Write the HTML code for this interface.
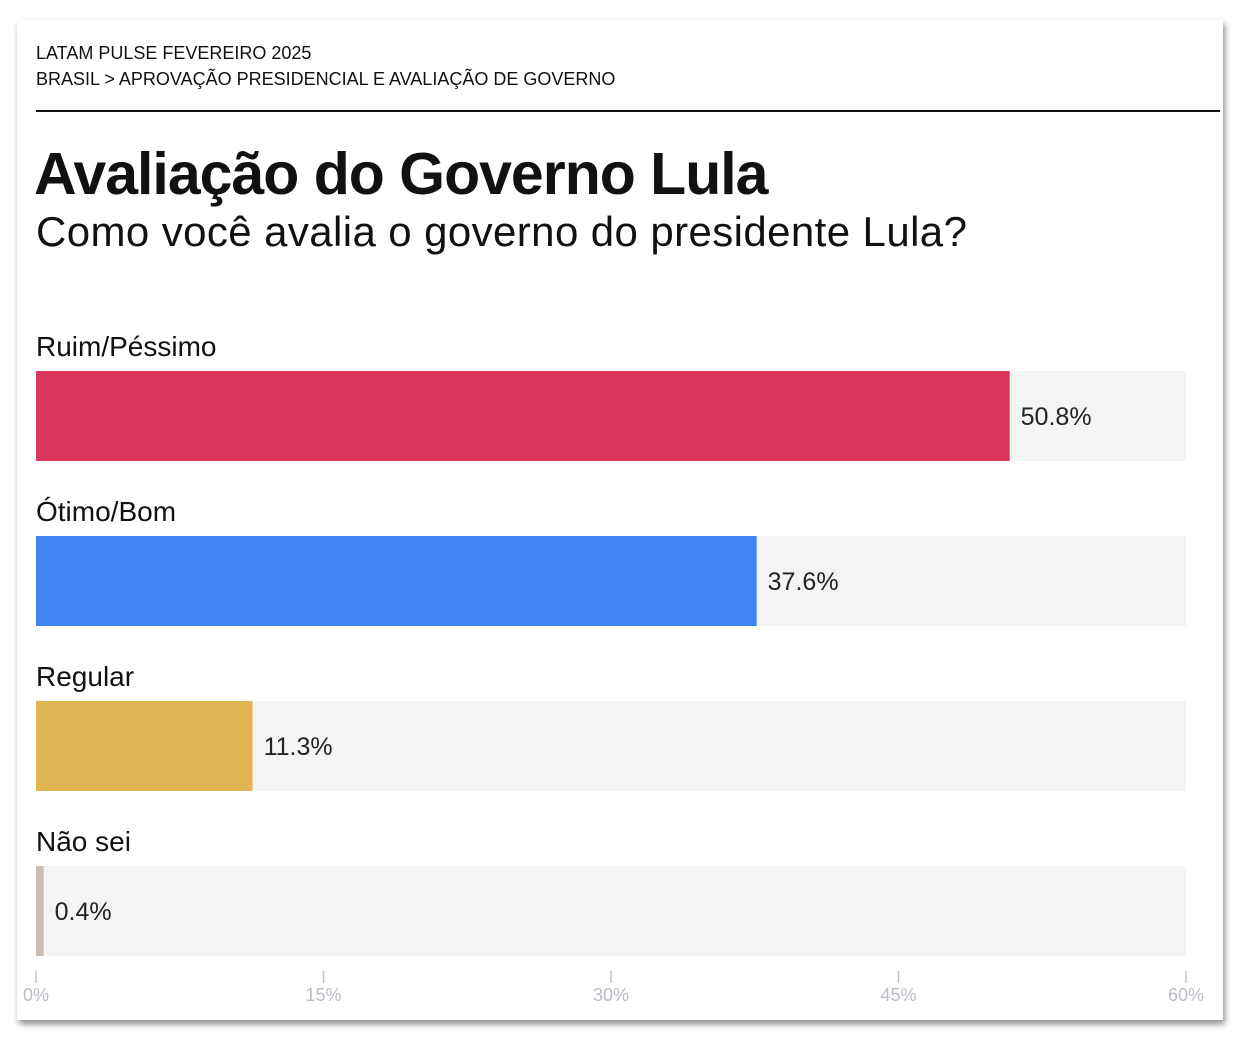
<!DOCTYPE html>
<html><head><meta charset="utf-8"><style>
body{margin:0;width:1246px;height:1046px;background:#fff;font-family:"Liberation Sans",sans-serif;position:relative;overflow:hidden}
#card{position:absolute;left:17px;top:20px;width:1206px;height:1000px;background:#fff;box-shadow:2px 4px 6px rgba(0,0,0,0.45)}
.t{position:absolute;white-space:nowrap;color:#111}
</style></head><body>
<div id="card"></div>
<div class="t" style="left:36px;top:43px;font-size:18px">LATAM PULSE FEVEREIRO 2025</div>
<div class="t" style="left:36px;top:69px;font-size:18px">BRASIL &gt; APROVAÇÃO PRESIDENCIAL E AVALIAÇÃO DE GOVERNO</div>
<div style="position:absolute;left:36px;top:110px;width:1184px;height:2px;background:#111"></div>
<div class="t" style="left:34px;top:140px;font-size:59px;font-weight:bold;letter-spacing:-1px">Avaliação do Governo Lula</div>
<div class="t" style="left:36px;top:208px;font-size:42px;letter-spacing:0.4px">Como você avalia o governo do presidente Lula?</div>
<svg id="chart" width="1246" height="1046" style="position:absolute;left:0;top:0"></svg>
<script>
const categories=["Ruim/Péssimo","Ótimo/Bom","Regular","Não sei"];
const values=[50.8,37.6,11.3,0.4];
const colors=["#d9385a","#4285f4","#e0b552","#c9bdb5"];
const ticks=[0,15,30,45,60];
const ns="http://www.w3.org/2000/svg";
const svg=document.getElementById('chart');
const x0=36,x1=1186,xmax=60;
const xs=v=>x0+(x1-x0)*v/xmax;
const ys=i=>371+165*i;
function el(t,a){const e=document.createElementNS(ns,t);for(const k in a)e.setAttribute(k,a[k]);svg.appendChild(e);return e;}
categories.forEach((c,i)=>{
 const y=ys(i);
 const lab=el('text',{x:36,y:y-15,'font-size':28,fill:'#111','font-family':'Liberation Sans, sans-serif'});
 lab.textContent=c;
 
 
 const tr=el('rect',{x:x0,y:y,width:x1-x0,height:90,fill:'#f4f4f2'});
 
 
 const b=el('rect',{x:x0,y:y,width:xs(values[i])-x0,height:90,fill:colors[i]});
 
 
 const v=el('text',{x:xs(values[i])+11,y:y+54,'font-size':25,fill:'#222','font-family':'Liberation Sans, sans-serif'});
 v.textContent=values[i].toFixed(1)+'%';
 
 
});
ticks.forEach(t=>{
 const x=xs(t);
 const l=el('line',{x1:x,x2:x,y1:971,y2:983,stroke:'#c0c4ca','stroke-width':1.5});
 
 
 const tx=el('text',{x:x,y:1001,'font-size':18,fill:'#b8bcc4','text-anchor':'middle','font-family':'Liberation Sans, sans-serif'});
 tx.textContent=t+'%';
 
 
});
</script>
</body></html>
